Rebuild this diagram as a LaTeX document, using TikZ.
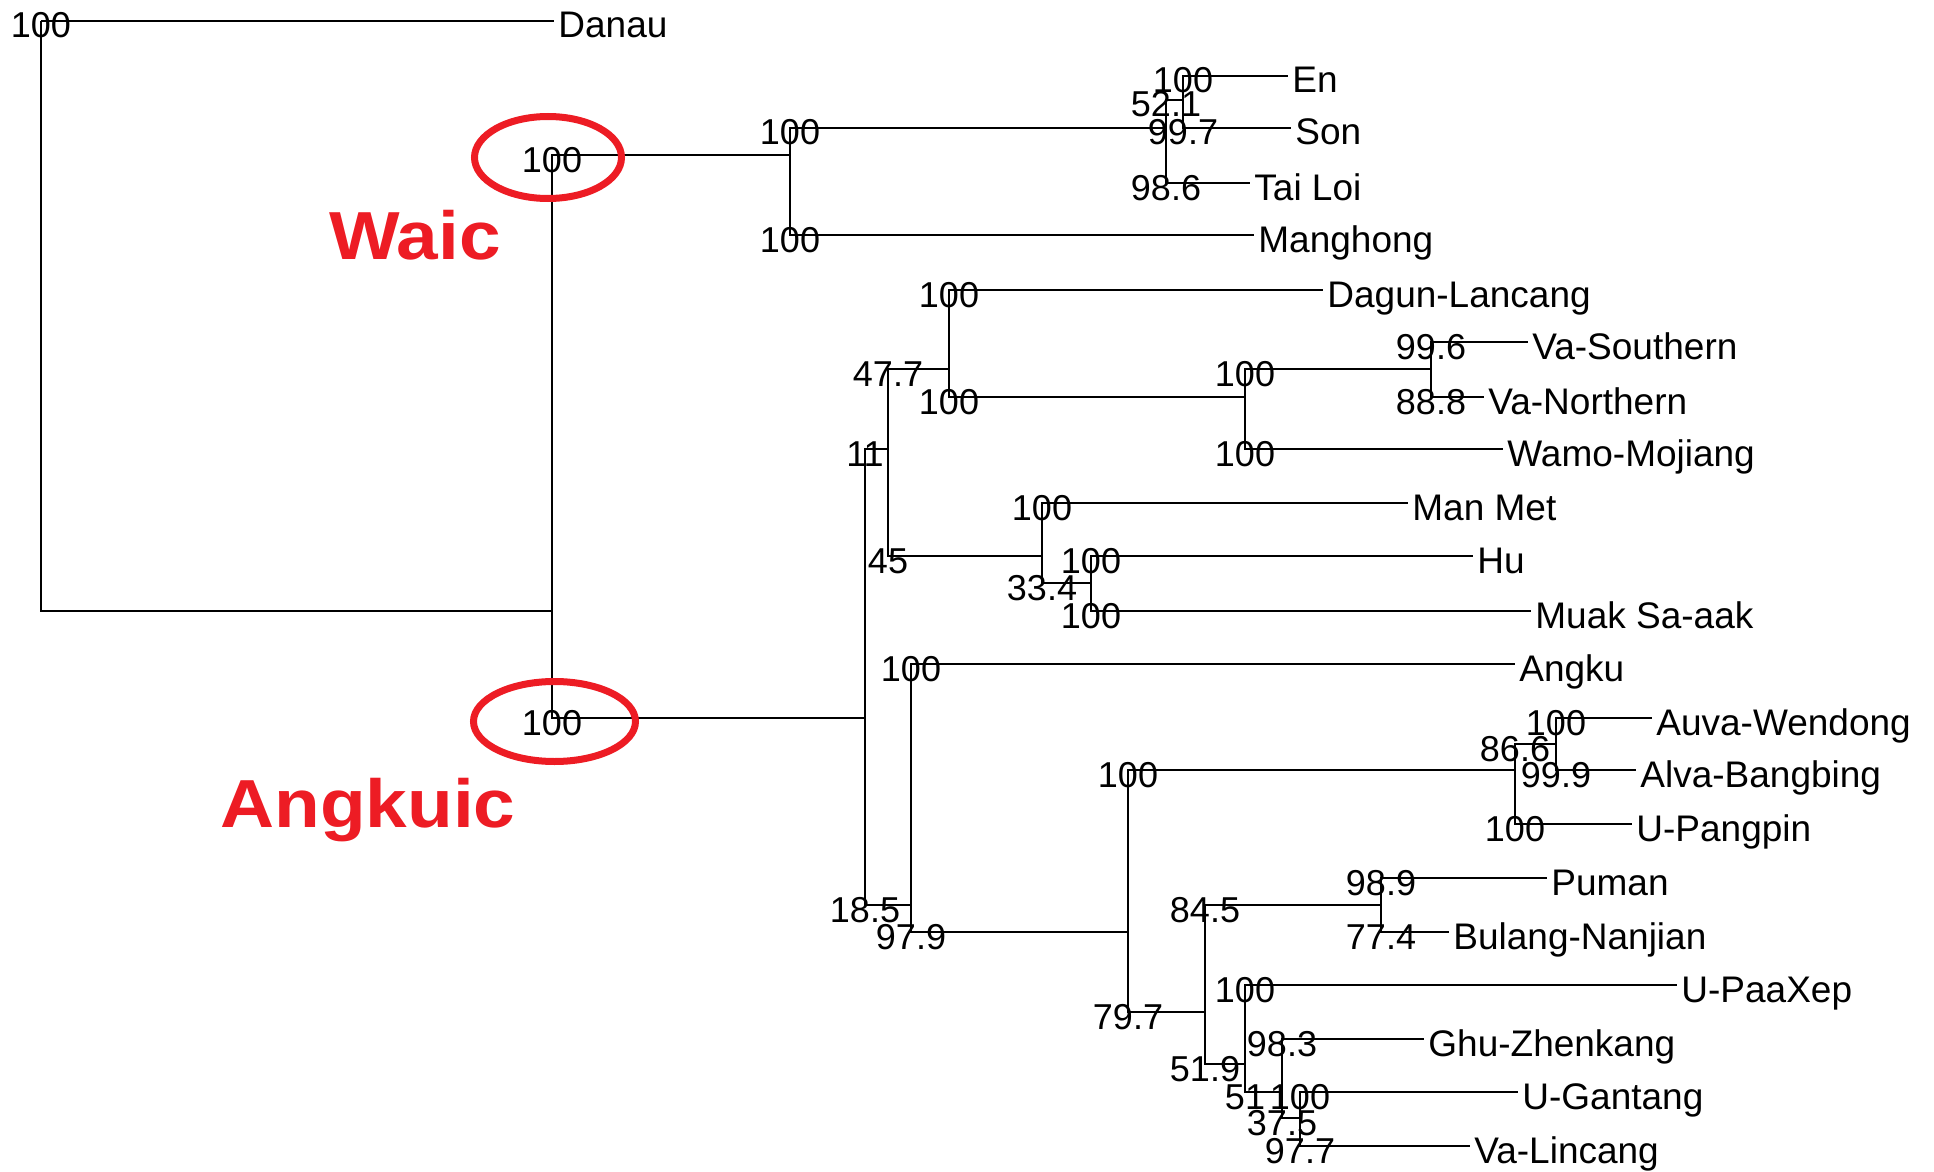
\documentclass[tikz,border=0pt]{standalone}
\usepackage{fontspec}
\setmainfont{Liberation Sans}
\usetikzlibrary{calc}
\definecolor{redmark}{RGB}{237,28,36}
\newcommand\treeedge[3]{%
  \draw[brl] (#1) |- (#2);
  \path (#1 |- #2) coordinate (tmpbase);
  \node[bs] at ([yshift=-8.5pt]tmpbase) {#3};}
\newcommand\tiplabel[2]{%
  \node[tip] at ([xshift=2pt,yshift=-8.5pt]#1) {#2};}
\begin{document}
\begin{tikzpicture}[x=0.5pt,y=-0.5pt,
  brl/.style={line width=1pt},
  bs/.style={font=\fontsize{18pt}{20pt}\selectfont, anchor=base, inner sep=0pt},
  tip/.style={font=\fontsize{18.5pt}{20pt}\selectfont, anchor=base west, inner sep=0pt},
  grp/.style={font=\fontsize{34pt}{36pt}\selectfont\bfseries, text=redmark, anchor=base, inner sep=0pt, xscale=1.1},
  ring/.style={draw=redmark, line width=3.5pt}]
\useasboundingbox (0,0) rectangle (1934,1172);
% internal nodes
\coordinate (R) at (41,21);
\coordinate (N1) at (552,611);
\coordinate (W) at (790,155);
\coordinate (A) at (865,718);
\coordinate (W1) at (1166,128);
\coordinate (W2) at (1183,100);
\coordinate (A1) at (888,449);
\coordinate (A2) at (911,905);
\coordinate (A11) at (949,369);
\coordinate (A12) at (1042,556);
\coordinate (A111) at (1245,397);
\coordinate (A1111) at (1431,369);
\coordinate (A121) at (1091,583);
\coordinate (A21) at (1128,932);
\coordinate (A211) at (1515,770);
\coordinate (A212) at (1205,1012);
\coordinate (A2111) at (1556,744);
\coordinate (A2121) at (1381,905);
\coordinate (A2122) at (1245,1064);
\coordinate (A21221) at (1282,1092);
\coordinate (A212211) at (1300,1118);
% leaves (line ends)
\coordinate (danau) at (554,21);
\coordinate (manghong) at (1254,235);
\coordinate (tailoi) at (1250,183);
\coordinate (en) at (1288,76);
\coordinate (son) at (1291,128);
\coordinate (dagun) at (1323,290);
\coordinate (wamo) at (1503,449);
\coordinate (vas) at (1528,342);
\coordinate (van) at (1484,397);
\coordinate (manmet) at (1408,503);
\coordinate (hu) at (1473,556);
\coordinate (muak) at (1531,611);
\coordinate (angku) at (1515,664);
\coordinate (upangpin) at (1632,824);
\coordinate (auva) at (1652,718);
\coordinate (alva) at (1636,770);
\coordinate (puman) at (1547,878);
\coordinate (bulang) at (1449,932);
\coordinate (upaaxep) at (1677,985);
\coordinate (ghu) at (1424,1039);
\coordinate (ugantang) at (1518,1092);
\coordinate (valincang) at (1470,1146);
% edges
\treeedge{R}{danau}{100}
\draw[brl] (R) |- (N1);
\treeedge{N1}{W}{100}
\treeedge{N1}{A}{100}
\treeedge{W}{W1}{100}
\treeedge{W}{manghong}{100}
\treeedge{W1}{W2}{52.1}
\treeedge{W1}{tailoi}{98.6}
\treeedge{W2}{en}{100}
\treeedge{W2}{son}{99.7}
\treeedge{A}{A1}{11}
\treeedge{A}{A2}{18.5}
\treeedge{A1}{A11}{47.7}
\treeedge{A1}{A12}{45}
\treeedge{A11}{dagun}{100}
\treeedge{A11}{A111}{100}
\treeedge{A111}{A1111}{100}
\treeedge{A111}{wamo}{100}
\treeedge{A1111}{vas}{99.6}
\treeedge{A1111}{van}{88.8}
\treeedge{A12}{manmet}{100}
\treeedge{A12}{A121}{33.4}
\treeedge{A121}{hu}{100}
\treeedge{A121}{muak}{100}
\treeedge{A2}{angku}{100}
\treeedge{A2}{A21}{97.9}
\treeedge{A21}{A211}{100}
\treeedge{A21}{A212}{79.7}
\treeedge{A211}{A2111}{86.6}
\treeedge{A211}{upangpin}{100}
\treeedge{A2111}{auva}{100}
\treeedge{A2111}{alva}{99.9}
\treeedge{A212}{A2121}{84.5}
\treeedge{A212}{A2122}{51.9}
\treeedge{A2121}{puman}{98.9}
\treeedge{A2121}{bulang}{77.4}
\treeedge{A2122}{upaaxep}{100}
\treeedge{A2122}{A21221}{51}
\treeedge{A21221}{ghu}{98.3}
\treeedge{A21221}{A212211}{37.5}
\treeedge{A212211}{ugantang}{100}
\treeedge{A212211}{valincang}{97.7}
% tip labels
\tiplabel{danau}{Danau}
\tiplabel{en}{En}
\tiplabel{son}{Son}
\tiplabel{tailoi}{Tai Loi}
\tiplabel{manghong}{Manghong}
\tiplabel{dagun}{Dagun-Lancang}
\tiplabel{vas}{Va-Southern}
\tiplabel{van}{Va-Northern}
\tiplabel{wamo}{Wamo-Mojiang}
\tiplabel{manmet}{Man Met}
\tiplabel{hu}{Hu}
\tiplabel{muak}{Muak Sa-aak}
\tiplabel{angku}{Angku}
\tiplabel{auva}{Auva-Wendong}
\tiplabel{alva}{Alva-Bangbing}
\tiplabel{upangpin}{U-Pangpin}
\tiplabel{puman}{Puman}
\tiplabel{bulang}{Bulang-Nanjian}
\tiplabel{upaaxep}{U-PaaXep}
\tiplabel{ghu}{Ghu-Zhenkang}
\tiplabel{ugantang}{U-Gantang}
\tiplabel{valincang}{Va-Lincang}
% highlights
\draw[ring] (548,157.5) ellipse [x radius=36.75pt, y radius=20.5pt];
\draw[ring] (554.5,721.5) ellipse [x radius=40.5pt, y radius=20pt];
\node[grp] (waic) at (415,259) {Waic};
\node[grp] (angkuic) at (368,827) {Angkuic};
\end{tikzpicture}
\end{document}
